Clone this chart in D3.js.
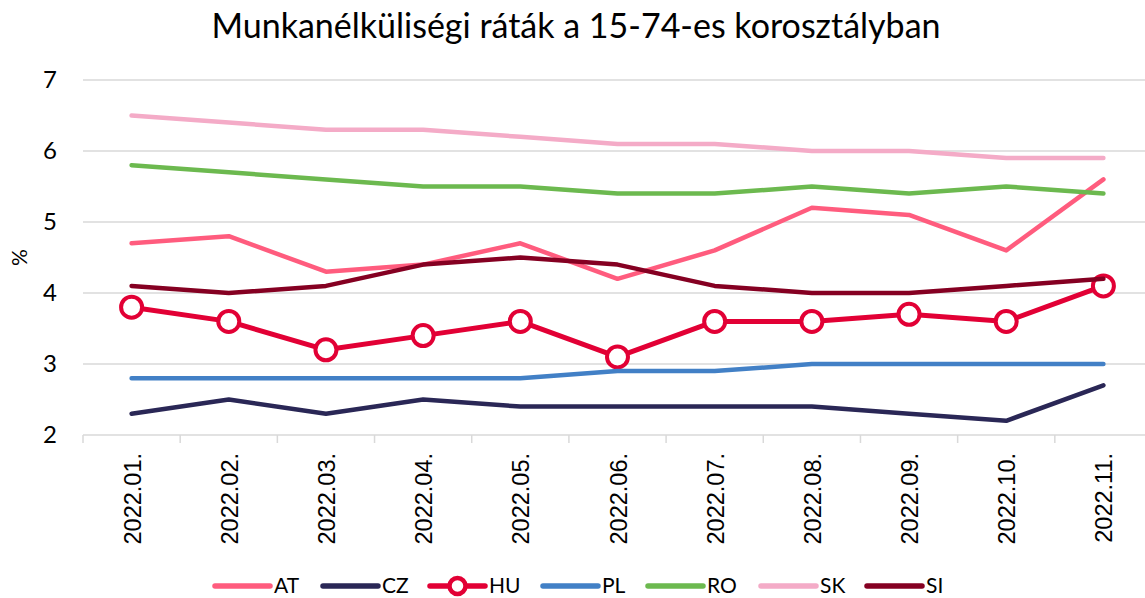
<!DOCTYPE html>
<html>
<head>
<meta charset="utf-8">
<script src="https://cdn.jsdelivr.net/npm/d3@7"></script>
<style>
  body { margin: 0; background: #fff; }
  svg { display: block; }
</style>
</head>
<body>
<svg id="chart"></svg>
<script>
// havi adatok, 2022
var months = ["2022.01.", "2022.02.", "2022.03.", "2022.04.", "2022.05.", "2022.06.",
              "2022.07.", "2022.08.", "2022.09.", "2022.10.", "2022.11."];

var AT = [4.7, 4.8, 4.3, 4.4, 4.7, 4.2, 4.6, 5.2, 5.1, 4.6, 5.6];
var CZ = [2.3, 2.5, 2.3, 2.5, 2.4, 2.4, 2.4, 2.4, 2.3, 2.2, 2.7];
var HU = [3.8, 3.6, 3.2, 3.4, 3.6, 3.1, 3.6, 3.6, 3.7, 3.6, 4.1];
var PL = [2.8, 2.8, 2.8, 2.8, 2.8, 2.9, 2.9, 3.0, 3.0, 3.0, 3.0];
var RO = [5.8, 5.7, 5.6, 5.5, 5.5, 5.4, 5.4, 5.5, 5.4, 5.5, 5.4];
var SK = [6.5, 6.4, 6.3, 6.3, 6.2, 6.1, 6.1, 6.0, 6.0, 5.9, 5.9];
var SI = [4.1, 4.0, 4.1, 4.4, 4.5, 4.4, 4.1, 4.0, 4.0, 4.1, 4.2];

var yTicks = [2, 3, 4, 5, 6, 7];

var series = [
    { name: "AT", values: AT, color: "#ff5c7e" },
    { name: "CZ", values: CZ, color: "#2a2756" },
    { name: "HU", values: HU, color: "#e20035", marker: true },
    { name: "PL", values: PL, color: "#4280c6" },
    { name: "RO", values: RO, color: "#6cb94f" },
    { name: "SK", values: SK, color: "#f4abc7" },
    { name: "SI", values: SI, color: "#850022" }
];

var svgWidth = 1145, svgHeight = 598;
var margin = { top: 80, left: 83, bottom: 163 };
var plotRight = 1152;

var svg = d3.select('#chart')
    .attr("width", svgWidth)
    .attr("height", svgHeight);

var x = d3.scaleBand()
    .domain(months)
    .range([margin.left, plotRight]);

var y = d3.scaleLinear()
    .domain([2, 7])
    .range([svgHeight - margin.bottom, margin.top]);

// title
svg.append("text")
    .attr("x", 576)
    .attr("y", 38)
    .attr("text-anchor", "middle")
    .style("font-family", "Lato, 'Open Sans', sans-serif")
    .style("font-size", "34px")
    .style("fill", "#000")
    .text("Munkanélküliségi ráták a 15-74-es korosztályban");

// gridlines
svg.append("g")
    .selectAll("line")
    .data(yTicks.filter(function (d) { return d > 2; }))
    .enter()
    .append("line")
    .attr("x1", margin.left)
    .attr("x2", svgWidth)
    .attr("y1", function (d) { return y(d); })
    .attr("y2", function (d) { return y(d); })
    .style("stroke", "#d9d9d9")
    .style("stroke-width", 1.5);

// y axis labels
var yAxis = d3.axisLeft(y).tickValues(yTicks).tickFormat(d3.format("d")).tickSize(0).tickPadding(26);
var gy = svg.append("g")
    .attr("transform", "translate(" + margin.left + ",0)")
    .call(yAxis);
gy.select(".domain").remove();
gy.selectAll("text")
    .style("font-family", "Lato, 'Open Sans', sans-serif")
    .style("font-size", "24px")
    .style("fill", "#000");

svg.append("text")
    .attr("transform", "translate(27," + y(4.5) + ") rotate(-90)")
    .attr("text-anchor", "middle")
    .style("font-family", "Lato, 'Open Sans', sans-serif")
    .style("font-size", "21px")
    .text("%");

// x axis
var xAxis = d3.axisBottom(x).tickSize(0).tickPadding(0);
var gx = svg.append("g")
    .attr("transform", "translate(0," + y(2) + ")")
    .call(xAxis);
gx.select(".domain")
    .attr("d", "M" + margin.left + ",0H" + svgWidth)
    .style("stroke", "#d9d9d9")
    .style("stroke-width", 1.5);
gx.selectAll(".tick").remove();
gx.selectAll(".sep")
    .data(months)
    .enter()
    .append("line")
    .attr("class", "sep")
    .attr("x1", function (d) { return x(d); })
    .attr("x2", function (d) { return x(d); })
    .attr("y1", 0)
    .attr("y2", 8)
    .style("stroke", "#d9d9d9")
    .style("stroke-width", 1.5);
gx.selectAll(".lbl")
    .data(months)
    .enter()
    .append("text")
    .attr("class", "lbl")
    .attr("transform", function (d) {
        return "translate(" + (x(d) + x.bandwidth() / 2 + 9) + ",18) rotate(-90)";
    })
    .attr("text-anchor", "end")
    .style("font-family", "'Liberation Sans', Arial, sans-serif")
    .style("font-size", "23.5px")
    .style("fill", "#000")
    .text(function (d) { return d; });

// lines
var line = d3.line()
    .x(function (d, i) { return x(months[i]) + x.bandwidth() / 2; })
    .y(function (d) { return y(d); });

var sg = svg.selectAll(".series")
    .data(series)
    .enter()
    .append("g")
    .attr("class", "series");

sg.append("path")
    .attr("d", function (d) { return line(d.values); })
    .style("fill", "none")
    .style("stroke", function (d) { return d.color; })
    .style("stroke-width", function (d) { return d.marker ? 5 : 4.5; })
    .style("stroke-linecap", "round")
    .style("stroke-linejoin", "round");

sg.filter(function (d) { return d.marker; })
    .selectAll("circle")
    .data(function (d) { return d.values.map(function (v) { return { v: v, color: d.color }; }); })
    .enter()
    .append("circle")
    .attr("cx", function (d, i) { return x(months[i]) + x.bandwidth() / 2; })
    .attr("cy", function (d) { return y(d.v); })
    .attr("r", 10.5)
    .style("fill", "#fff")
    .style("stroke", function (d) { return d.color; })
    .style("stroke-width", 4);

// legend
var legendX = [215, 323, 430, 543, 648, 761, 867];
var lg = svg.selectAll(".legend")
    .data(series)
    .enter()
    .append("g")
    .attr("class", "legend")
    .attr("transform", function (d, i) { return "translate(" + legendX[i] + ",586)"; });

lg.append("line")
    .attr("x1", 0)
    .attr("x2", 55)
    .style("stroke", function (d) { return d.color; })
    .style("stroke-width", 5.5)
    .style("stroke-linecap", "round");

lg.filter(function (d) { return d.marker; })
    .append("circle")
    .attr("cx", 27.5)
    .attr("r", 8)
    .style("fill", "#fff")
    .style("stroke", function (d) { return d.color; })
    .style("stroke-width", 4.5);

lg.append("text")
    .attr("x", 59)
    .attr("y", 7)
    .style("font-family", "Lato, 'Open Sans', sans-serif")
    .style("font-size", "21px")
    .style("fill", "#000")
    .text(function (d) { return d.name; });
</script>
</body>
</html>
